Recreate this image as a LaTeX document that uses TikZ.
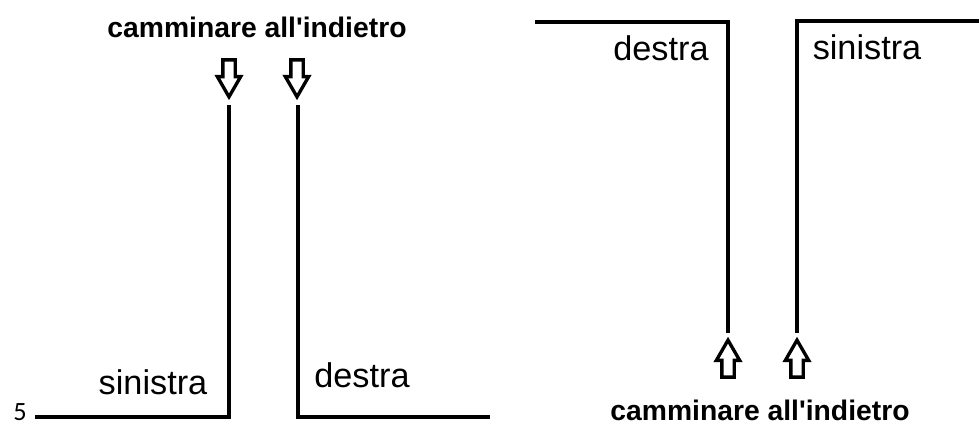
\documentclass[tikz,border=0pt]{standalone}
\usepackage{fontspec}
\setmainfont{Liberation Sans}
\newfontfamily\walkfont{Liberation Sans}
\newfontfamily\numfont{Carlito}
\usetikzlibrary{shapes.arrows,positioning}

\begin{document}
\begin{tikzpicture}[x=0.02cm,y=-0.02cm,
                wall/.style={line width=2.2pt},
                side/.style={font=\fontsize{19.5}{22}\selectfont,inner sep=0pt},
                walk/.style={font=\walkfont\bfseries\fontsize{16.1}{19}\selectfont,inner sep=0pt},
                hollow/.style={single arrow,draw,fill=white,line width=1.9pt,
                            minimum height=0.74cm,inner xsep=0pt,inner ysep=0.09cm,
                            single arrow head extend=0.11cm,single arrow tip angle=60}
            ]
                \useasboundingbox (0,0) rectangle (979,425);
                % left: entering from the top
                \node[walk] (walkTop) at (257,27) {camminare all'indietro};
                \node[hollow,rotate=-90] (downL) at (229,73) {};
                \node[hollow,rotate=-90] (downR) at (297,73) {};
                \coordinate (wallA) at (229,105);
                \coordinate (wallB) at (298,105);
                \draw[wall] (35,417) -- (229,417) -- (wallA);
                \draw[wall] (wallB) -- (298,417) -- (490,417);
                \node[side] (leftS) at (153,382) {sinistra};
                \node[side] (leftD) at (362,375) {destra};
                \node[font=\numfont\fontsize{15}{17}\selectfont,inner sep=0pt,anchor=base] (num) at (20,420) {5};
                % right: entering from the bottom
                \coordinate (wallC) at (728,333);
                \coordinate (wallD) at (797,333);
                \draw[wall] (535,22) -- (728,22) -- (wallC);
                \draw[wall] (wallD) -- (797,21) -- (979,21);
                \node[side] (rightD) at (661,48) {destra};
                \node[side] (rightS) at (867,47) {sinistra};
                \node[hollow,rotate=90] (upL) at (728,364) {};
                \node[hollow,rotate=90] (upR) at (797,364) {};
                \node[walk] (walkBot) at (760,410) {camminare all'indietro};
            \end{tikzpicture}
\end{document}
